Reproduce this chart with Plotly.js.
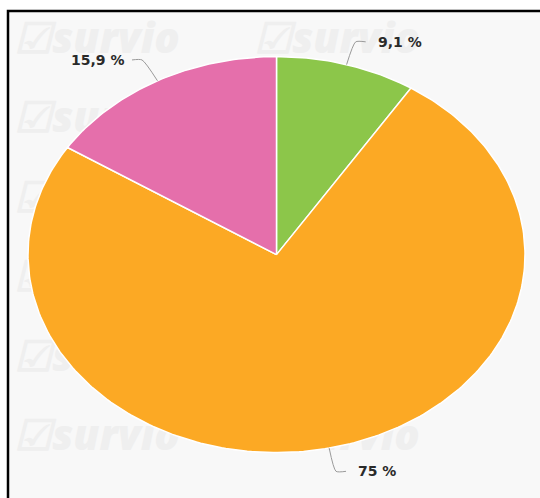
<!DOCTYPE html>
<html>
<head>
<meta charset="utf-8">
<script src="https://cdn.plot.ly/plotly-3.0.1.min.js"></script>
<style>html,body{margin:0;padding:0;background:#fff;}#chart{width:540px;height:498px;}</style>
</head>
<body>
<div id="chart"></div>
<script>
// ---- data ----
const categories = ["A", "B", "C"];
const values = [9.1, 75, 15.9];
const colors = ["#8cc64a", "#fca924", "#e56fab"];
const watermarkText = "\u2611survio";

// ---- layout geometry (pixels) ----
const W = 540, H = 498;
const cx = 276.5, cy = 254.6, rx = 248.5, ry = 198;
const px2x = p => (p - cx) / rx;
const py2y = p => (cy - p) / ry;

const total = values.reduce((a, b) => a + b, 0);
const traces = [];

// faint watermark grid (drawn first, under the pie)
const wx = [], wy = [], wt = [];
for (let r = 0; r < 6; r++) {
  for (let c = 0; c < 3; c++) {
    wx.push(px2x(97 + c * 240));
    wy.push(py2y(42 + r * 79.5));
    wt.push(watermarkText);
  }
}
traces.push({
  type: "scatter", mode: "text", x: wx, y: wy, text: wt,
  textfont: {family: "Open Sans", size: 42, color: "#efefef", weight: 800, style: "italic"},
  hoverinfo: "skip", showlegend: false, cliponaxis: false
});

// pie sectors
let cum = 0;
const annotations = [];
values.forEach((v, i) => {
  const f0 = cum / total, f1 = (cum + v) / total;
  cum += v;
  const n = Math.max(3, Math.ceil((f1 - f0) * 360));
  const xs = [0], ys = [0];
  for (let k = 0; k <= n; k++) {
    const t = 2 * Math.PI * (f0 + (f1 - f0) * k / n);
    xs.push(Math.sin(t)); ys.push(Math.cos(t));
  }
  xs.push(0); ys.push(0);
  traces.push({
    type: "scatter", mode: "lines", x: xs, y: ys, fill: "toself",
    fillcolor: colors[i], line: {color: "#ffffff", width: 1.5},
    name: categories[i], hoverinfo: "skip", showlegend: false
  });

  // leader line + label
  const tm = 2 * Math.PI * (f0 + f1) / 2;
  const s = Math.sin(tm), co = Math.cos(tm);
  const side = s >= 0 ? 1 : -1;
  const ex = s * 1.13, ey = co * 1.12;
  const hx = ex + side * 10 / rx;
  traces.push({
    type: "scatter", mode: "lines",
    x: [s, ex, hx], y: [co, ey, ey],
    line: {color: "#9a9a9a", width: 1, shape: "spline", smoothing: 0.6},
    hoverinfo: "skip", showlegend: false, cliponaxis: false
  });
  const label = (Number.isInteger(v) ? String(v) : v.toFixed(1).replace(".", ",")) + " %";
  annotations.push({
    x: hx, y: ey, xref: "x", yref: "y", text: label, showarrow: false,
    xanchor: side > 0 ? "left" : "right", yanchor: "middle",
    xshift: side > 0 ? 10 : -6,
    font: {family: "DejaVu Sans", size: 14, color: "#2a2a2a", weight: "bold"}
  });
});

const layout = {
  width: W, height: H,
  margin: {l: 0, r: 0, t: 0, b: 0, pad: 0},
  paper_bgcolor: "#ffffff",
  plot_bgcolor: "rgba(0,0,0,0)",
  showlegend: false,
  xaxis: {range: [px2x(0), px2x(W)], visible: false, fixedrange: true},
  yaxis: {range: [py2y(H), py2y(0)], visible: false, fixedrange: true},
  shapes: [{
    type: "rect", xref: "paper", yref: "paper", layer: "below",
    x0: 8 / W, x1: (W + 10) / W, y0: -10 / H, y1: 1 - 11 / H,
    line: {color: "#000000", width: 2.5}, fillcolor: "#f8f8f8"
  }],
  annotations: annotations
};

Plotly.newPlot("chart", traces, layout, {displayModeBar: false, staticPlot: true});
</script>
</body>
</html>
